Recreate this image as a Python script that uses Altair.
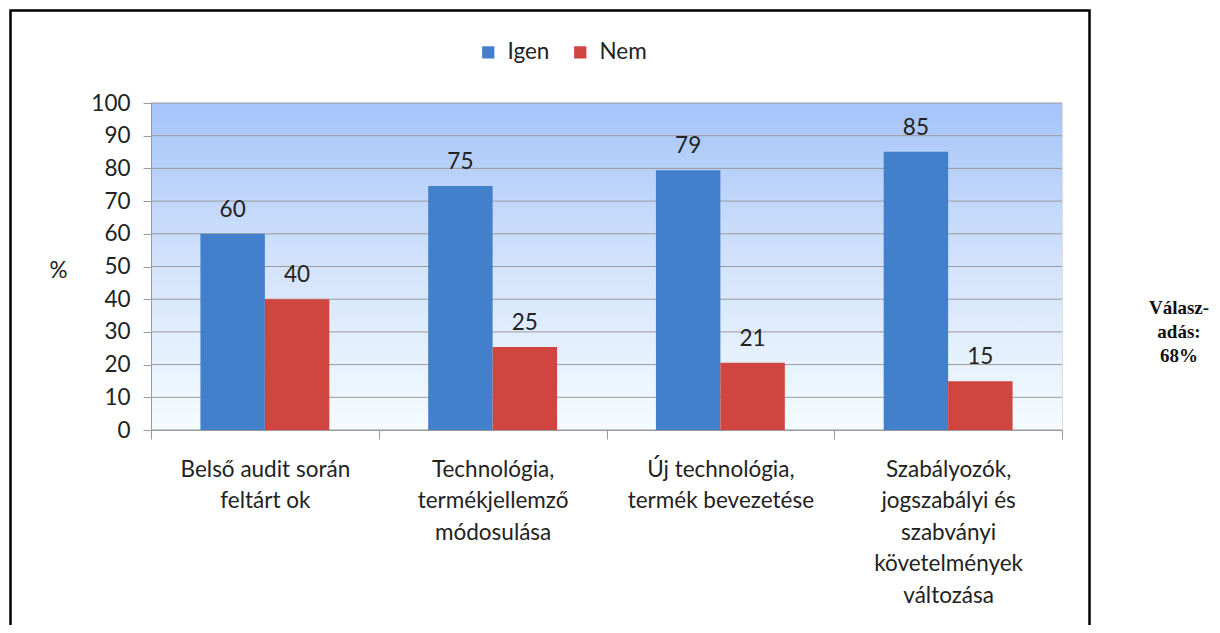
import altair as alt
import pandas as pd

categories = [
    "Belső audit során|feltárt ok",
    "Technológia,|termékjellemző|módosulása",
    "Új technológia,|termék bevezetése",
    "Szabályozók,|jogszabályi és|szabványi|követelmények|változása",
]
series = ["Igen", "Nem"]
igen = [60.0, 74.6, 79.4, 85.1]
nem = [40.0, 25.4, 20.6, 14.9]
igen_labels = [60, 75, 79, 85]
nem_labels = [40, 25, 21, 15]
y_ticks = list(range(0, 101, 10))
colors = ["#4380CB", "#D0453F"]
side_note = ["Válasz-", "adás:", "68%"]

rows = []
for c, v, l in zip(categories, igen, igen_labels):
    rows.append({"cat": c, "series": "Igen", "value": v, "label": str(l)})
for c, v, l in zip(categories, nem, nem_labels):
    rows.append({"cat": c, "series": "Nem", "value": v, "label": str(l)})
df = pd.DataFrame(rows)
ticks_df = pd.DataFrame({"value": y_ticks})
one = pd.DataFrame({"a": [0]})

W, H = 911, 327
FONT = "Lato"
FS = 22.5
TXT = "#222222"
GRID = "#9A9A9A"

yscale = alt.Scale(domain=[0, 100], nice=False)

background = alt.Chart(one).mark_rect(
    fill=alt.LinearGradient(
        gradient="linear",
        stops=[
            alt.GradientStop(color="#A5C4F9", offset=0),
            alt.GradientStop(color="#D3E3FB", offset=0.5),
            alt.GradientStop(color="#F5FCFF", offset=1),
        ],
        x1=0, x2=0, y1=0, y2=1,
    )
).encode(x=alt.value(0), x2=alt.value(W), y=alt.value(0), y2=alt.value(H))

x_enc = alt.X(
    "cat:N",
    sort=categories,
    scale=alt.Scale(paddingInner=0, paddingOuter=0),
    axis=alt.Axis(
        title=None,
        labelExpr="split(datum.label, '|')",
        labelAngle=0,
        tickBand="extent",
        tickSize=9,
        tickColor=GRID,
        domainColor=GRID,
        labelFont=FONT,
        labelFontSize=FS,
        labelColor=TXT,
        labelLineHeight=31.5,
        labelPadding=19,
        labelLimit=0,
        zindex=1,
    ),
)
xoff = alt.XOffset(
    "series:N", sort=series, scale=alt.Scale(paddingInner=0, paddingOuter=0.767)
)
y_enc = alt.Y(
    "value:Q",
    scale=yscale,
    axis=alt.Axis(
        values=y_ticks,
        grid=False,
        title="%",
        titleAngle=0,
        titleX=-93,
        titleY=167,
        titleAlign="center",
        titleBaseline="middle",
        titleFont=FONT,
        titleFontSize=FS,
        titleFontWeight="normal",
        titleColor=TXT,
        tickSize=8,
        tickColor=GRID,
        domainColor=GRID,
        labelFont=FONT,
        labelFontSize=FS,
        labelColor=TXT,
        labelPadding=13,
        labelOverlap=False,
        zindex=1,
    ),
)

grid = alt.Chart(ticks_df).mark_rule(color=GRID, strokeWidth=1).encode(
    y=y_enc,
    x=alt.value(0),
    x2=alt.value(W),
)

bars = alt.Chart(df).mark_bar().encode(
    x=x_enc,
    xOffset=xoff,
    y=y_enc,
    color=alt.Color(
        "series:N",
        sort=series,
        scale=alt.Scale(domain=series, range=colors),
        legend=alt.Legend(
            title=None,
            orient="none",
            legendX=326,
            legendY=-62,
            direction="horizontal",
            symbolType="square",
            symbolSize=150,
            symbolStrokeWidth=0,
            symbolOpacity=1,
            labelFont=FONT,
            labelFontSize=FS,
            labelColor=TXT,
            labelOffset=8,
            columnPadding=19,
            padding=0,
        ),
    ),
)

labels = alt.Chart(df).mark_text(
    dy=-17, baseline="alphabetic", align="center", font=FONT, fontSize=FS, color=TXT
).encode(x=x_enc, xOffset=xoff, y=y_enc, text="label:N")

note = alt.Chart(one).mark_text(
    text=side_note,
    font="Liberation Serif",
    fontWeight="bold",
    fontSize=19,
    lineHeight=24,
    align="center",
    baseline="middle",
    color="#111111",
).encode(x=alt.value(1028), y=alt.value(205))

border = alt.Chart(one).mark_rect(
    fillOpacity=0, stroke="black", strokeWidth=2.5
).encode(
    x=alt.value(-140.5), x2=alt.value(938.5), y=alt.value(-92.5), y2=alt.value(540)
)

chart = alt.layer(background, grid, bars, labels, note, border).properties(
    width=W,
    height=H,
    padding={"left": 143, "top": 95, "right": 149, "bottom": 195},
    autosize=alt.AutoSizeParams(type="none"),
).configure_view(strokeWidth=0).configure(background="white")

chart.save("out.html", embed_options={"renderer": "svg", "actions": False})
